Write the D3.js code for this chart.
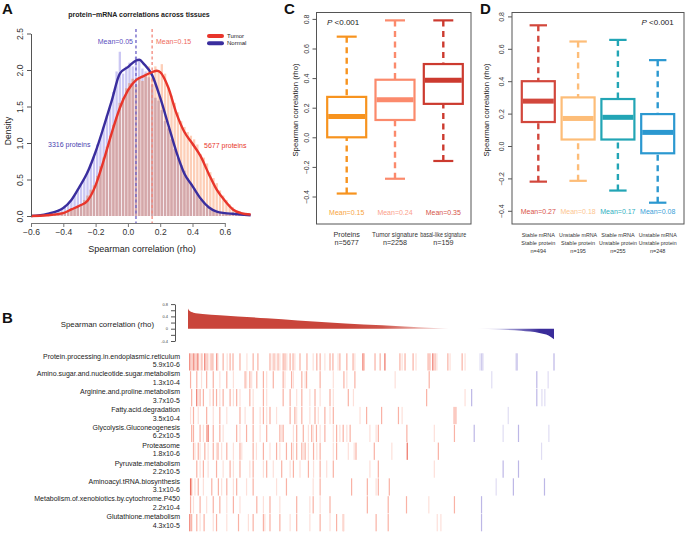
<!DOCTYPE html>
<html>
<head>
<meta charset="utf-8">
<script src="https://cdn.jsdelivr.net/npm/d3@7"></script>
<style>
body { margin: 0; background: #fff; }
svg { display: block; font-family: "Liberation Sans", Arial, sans-serif; }
</style>
</head>
<body>
<svg id="fig" width="685" height="533"></svg>
<script>
// ---- panel A: histogram bins (width 0.02, starting at -0.6) ----
var binStart = -0.6, binWidth = 0.02;
var normalBins = [0.0,0.0,0.01,0.01,0.02,0.03,0.04,0.06,0.08,0.10,0.14,0.18,0.22,0.28,0.36,0.42,0.50,0.62,0.72,0.82,
  0.98,1.08,1.22,1.38,1.52,1.70,1.98,2.25,1.95,2.05,2.10,2.05,2.18,2.15,2.02,1.98,1.90,1.80,1.62,1.58,
  1.45,1.30,1.20,1.05,0.92,0.80,0.70,0.62,0.52,0.44,0.38,0.30,0.22,0.18,0.12,0.09,0.07,0.05,0.04,0.03,
  0.03,0.02,0.02,0.01,0.01,0.01,0.0,0.0];
var tumorBins = [0.0,0.0,0.01,0.01,0.02,0.02,0.03,0.03,0.04,0.05,0.06,0.08,0.10,0.12,0.14,0.16,0.22,0.28,0.36,0.42,
  0.55,0.68,0.80,0.95,1.10,1.25,1.35,1.55,1.62,1.75,1.82,1.88,1.80,1.90,1.85,1.95,2.05,1.90,2.05,2.00,
  2.08,1.95,1.75,1.65,1.55,1.42,1.30,1.22,1.15,1.10,1.05,0.98,0.85,0.80,0.72,0.60,0.52,0.45,0.35,0.28,
  0.22,0.16,0.12,0.08,0.06,0.04,0.02,0.01];
// density curves
var normalX = [-0.6,-0.5,-0.4,-0.35,-0.3,-0.25,-0.2,-0.15,-0.1,-0.05,0,0.05,0.07,0.1,0.15,0.2,0.25,0.3,0.35,0.4,0.45,0.5,0.55,0.6,0.65,0.7,0.76];
var normalY = [0,0.03,0.11,0.22,0.40,0.60,0.88,1.22,1.58,1.95,2.04,2.13,2.14,2.08,1.93,1.62,1.25,0.88,0.58,0.41,0.24,0.12,0.06,0.04,0.03,0.02,0.01];
var tumorX = [-0.6,-0.5,-0.4,-0.35,-0.3,-0.25,-0.2,-0.15,-0.1,-0.05,0,0.05,0.1,0.15,0.18,0.2,0.25,0.3,0.35,0.4,0.45,0.5,0.55,0.6,0.65,0.7,0.76];
var tumorY = [0,0.01,0.04,0.09,0.14,0.21,0.42,0.76,1.14,1.48,1.72,1.86,1.92,1.97,1.99,1.97,1.76,1.41,1.15,0.99,0.82,0.58,0.36,0.21,0.09,0.04,0.02];
var meanNormal = 0.05, meanTumor = 0.15;
var xTicksA = [-0.6,-0.4,-0.2,0.0,0.2,0.4,0.6];
var yTicksA = [0,0.5,1,1.5,2,2.5];

// ---- panel C ----
var cGroups = ['Proteins', 'Tumor signature', 'basal-like signature'];
var cCounts = ['n=5677', 'n=2258', 'n=159'];
var cMeans = [0.15, 0.24, 0.35];
var cLow = [-0.38, -0.28, -0.16];
var cQ1 = [0.0, 0.117, 0.226];
var cMed = [0.14, 0.253, 0.386];
var cQ3 = [0.273, 0.389, 0.495];
var cHigh = [0.68, 0.79, 0.79];

// ---- panel D ----
var dGroups = [['Stable mRNA','Stable protein'], ['Unstable mRNA','Stable protein'],
  ['Stable mRNA','Unstable protein'], ['Unstable mRNA','Unstable protein']];
var dCounts = ['n=494', 'n=195', 'n=255', 'n=248'];
var dMeans = [0.27, 0.18, 0.17, 0.08];
var dLow = [-0.22, -0.215, -0.275, -0.35];
var dQ1 = [0.148, 0.04, 0.04, -0.045];
var dMed = [0.277, 0.17, 0.177, 0.084];
var dQ3 = [0.40, 0.30, 0.29, 0.197];
var dHigh = [0.745, 0.645, 0.655, 0.53];
var boxTicks = [-0.4,-0.2,0.0,0.2,0.4,0.6,0.8];

// ---- panel B: ranked correlation profile (rank %, rho) ----
var rankPct = [0, 0.4, 1.5, 4, 8.7, 21.5, 30, 43, 53, 63, 74, 79, 85, 91, 96, 98.5, 100];
var rankRho = [0.66, 0.58, 0.52, 0.48, 0.44, 0.34, 0.27, 0.17, 0.11, 0.05, 0.0, 0.0, -0.03, -0.07, -0.14, -0.22, -0.34];
var bTicks = [-0.4, 0, 0.4, 0.8];
var pathways = ['Protein.processing.in.endoplasmic.reticulum', 'Amino.sugar.and.nucleotide.sugar.metabolism',
  'Arginine.and.proline.metabolism', 'Fatty.acid.degradation', 'Glycolysis.Gluconeogenesis', 'Proteasome',
  'Pyruvate.metabolism', 'Aminoacyl.tRNA.biosynthesis', 'Metabolism.of.xenobiotics.by.cytochrome.P450',
  'Glutathione.metabolism'];
var pathwayP = ['5.9x10-6', '1.3x10-4', '3.7x10-5', '3.5x10-4', '6.2x10-5', '1.8x10-6', '2.2x10-5',
  '3.1x10-6', '2.2x10-4', '4.3x10-5'];
// gene hits per pathway: [rank %, shade 1-3]
var hits = [
  [[0.5,3],[1.1,2],[1.6,3],[2.2,2],[2.7,3],[3.3,1],[3.8,2],[4.6,3],[5.2,2],[5.7,1],[6.3,2],[6.8,2],[7.9,3],[8.2,1],[9.6,2],[10.7,1],[11.5,2],[12.3,2],[14.2,2],[16.1,1],[17.8,2],[19.1,2],[22.4,2],[23.0,1],[23.5,2],[24.0,1],[24.6,2],[25.1,1],[26.0,2],[26.5,2],[27.0,1],[27.9,2],[28.7,2],[29.2,1],[30.6,2],[32.5,2],[34.2,1],[35.2,2],[36.1,2],[37.4,1],[38.8,2],[39.6,2],[41.0,1],[41.5,2],[43.4,2],[45.1,2],[45.6,1],[47.8,3],[48.1,2],[51.1,2],[52.5,2],[53.8,3],[57.9,2],[58.5,1],[59.3,2],[61.5,2],[62.3,1],[65.6,2],[66.1,2],[66.9,3],[67.5,2],[68.0,1],[71.0,2],[71.6,1],[74.9,2],[75.7,1],[79.8,1],[80.3,2],[80.6,1],[89.6,1],[89.9,2],[100,2]],
  [[0.7,2],[2.4,2],[3.7,1],[5.1,2],[6.9,2],[8.7,1],[10.6,2],[12.4,1],[15.6,2],[16.0,1],[16.9,2],[17.4,1],[18.8,2],[20.6,2],[21.5,1],[23.3,2],[26.0,2],[26.5,1],[28.3,2],[28.8,1],[31.1,2],[32.0,1],[32.4,2],[36.1,2],[39.7,1],[42.6,2],[43.4,1],[45.6,2],[56.6,1],[65.9,2],[83.0,1],[95.3,2],[98.4,1]],
  [[1.0,2],[2.4,3],[2.8,1],[3.3,2],[4.2,2],[6.0,1],[6.9,2],[7.8,2],[8.7,1],[9.6,2],[11.5,2],[12.4,1],[13.3,2],[14.2,1],[16.9,2],[17.8,1],[20.6,2],[21.5,1],[26.0,2],[27.9,2],[29.7,1],[31.1,2],[33.3,1],[34.7,2],[36.1,1],[38.8,2],[39.7,1],[43.8,2],[45.2,1],[65.2,2],[75.7,1],[77.5,2],[95.3,2],[96.7,1],[97.5,1]],
  [[0.7,1],[1.5,2],[2.8,1],[5.1,2],[6.9,1],[8.7,2],[10.6,1],[14.2,2],[15.6,1],[17.8,2],[19.7,1],[20.6,2],[21.5,1],[22.4,2],[24.2,1],[27.9,2],[29.2,2],[29.7,1],[31.1,2],[33.3,1],[34.7,2],[35.6,1],[37.4,2],[38.8,1],[39.7,2],[47.0,1],[48.8,2],[52.9,2],[57.5,2],[58.5,1],[72.7,2],[73.2,2],[87.5,1]],
  [[1.0,2],[1.5,2],[3.3,2],[4.2,1],[5.1,2],[5.5,3],[6.9,2],[8.7,2],[9.6,1],[13.3,2],[14.2,1],[16.0,2],[17.8,2],[19.7,1],[21.5,2],[25.1,2],[25.6,1],[26.0,2],[28.8,1],[29.7,2],[31.5,2],[32.9,1],[33.8,2],[34.2,1],[35.1,2],[36.1,1],[37.4,2],[39.7,1],[40.6,2],[41.5,1],[42.4,2],[43.4,1],[44.3,2],[49.7,1],[51.4,1],[52.0,2],[59.8,2],[67.3,1],[72.8,2],[78.2,2],[86.1,1],[90.3,2],[98.6,1]],
  [[1.5,2],[1.9,1],[2.8,2],[3.3,1],[4.6,2],[5.5,1],[6.9,2],[7.8,1],[8.2,2],[9.2,1],[10.6,2],[12.4,1],[14.2,2],[14.7,1],[17.8,2],[18.7,1],[20.6,2],[22.4,1],[24.2,2],[25.1,1],[26.9,2],[28.3,2],[28.8,1],[29.7,2],[31.1,2],[31.5,1],[32.0,2],[32.9,1],[34.3,2],[35.2,1],[36.1,2],[39.7,1],[40.6,2],[43.8,1],[45.4,1],[45.9,2],[50.9,2],[55.7,1],[59.9,3],[68.4,2],[96.6,1]],
  [[2.4,2],[3.3,1],[4.2,2],[5.5,1],[7.8,2],[9.6,1],[11.5,2],[12.4,1],[14.2,2],[16.9,1],[17.8,2],[20.6,1],[21.5,2],[23.3,1],[25.6,2],[27.9,1],[28.8,2],[30.6,1],[32.9,2],[34.3,1],[36.1,2],[37.9,1],[39.7,2],[49.7,1],[52.0,2],[67.3,1],[86.1,2],[90.3,2]],
  [[0.7,3],[1.0,2],[1.9,1],[2.8,2],[4.2,1],[6.5,2],[8.3,2],[9.2,1],[10.6,2],[12.4,1],[13.3,2],[16.0,1],[17.8,2],[24.2,1],[26.9,2],[34.2,1],[36.1,2],[44.7,2],[49.0,2],[51.4,1],[52.0,2],[55.0,2],[84.2,1],[88.9,2],[97.4,2]],
  [[0.7,2],[1.5,1],[3.3,2],[5.1,1],[6.9,2],[8.7,2],[10.6,1],[12.4,2],[14.2,1],[18.8,2],[20.6,1],[22.4,2],[25.1,1],[29.7,2],[33.3,1],[34.2,2],[36.1,1],[38.8,2],[49.0,2],[54.7,2],[59.7,2],[65.8,1],[72.8,2],[80.2,2]],
  [[0.5,3],[1.0,2],[2.4,2],[3.3,1],[4.4,2],[6.9,1],[7.8,2],[10.6,1],[13.8,2],[16.5,1],[17.8,2],[20.6,2],[21.0,1],[22.4,2],[25.1,2],[27.9,1],[29.7,2],[33.3,1],[36.1,2],[38.8,1],[40.6,2],[42.4,2],[42.6,1],[51.4,2],[54.7,2],[68.1,1],[69.1,1],[80.2,2]]
];
var negStart = 76.5;   // rank % where correlations turn negative

var svg = d3.select('#fig');
var fmt1 = d3.format('.1f');

function panelLetter(txt, x, y) {
    svg.append('text').attr('x', x).attr('y', y)
        .attr('font-size', 15).attr('font-weight', 'bold').attr('fill', '#111').text(txt);
}

// squeeze a label into maxW (condensed look like the original's narrow font)
function fitText(sel, maxW) {
    sel.each(function() {
        var w = this.getComputedTextLength();
        if (w > maxW)
            d3.select(this).attr('textLength', maxW).attr('lengthAdjust', 'spacingAndGlyphs');
    });
}

// rotated (R style) labels for a left axis
function leftAxis(g, scale, ticks, x, fontSize, fmt) {
    var ax = g.append('g').attr('transform', 'translate(' + x + ',0)')
        .call(d3.axisLeft(scale).tickValues(ticks).tickFormat(fmt).tickSize(4).tickSizeOuter(0));
    ax.select('.domain').attr('stroke', '#555');
    ax.selectAll('.tick line').attr('stroke', '#555');
    ax.selectAll('.tick text')
        .attr('x', 0).attr('y', -8).attr('dy', 0)
        .attr('text-anchor', 'middle').attr('transform', 'rotate(-90)')
        .attr('font-size', fontSize).attr('fill', '#333')
        .attr('font-family', '"Liberation Sans", Arial, sans-serif');
    return ax;
}

function drawA() {
    var g = svg.append('g');
    var x = d3.scaleLinear().domain([-0.6, 0.6]).range([31, 224.8]);
    var y = d3.scaleLinear().domain([0, 2.5]).range([216, 33.5]);
    var bw = x(binWidth) - x(0);

    var bins = normalBins.map(function(n, i) {
        return {x0: binStart + i * binWidth, n: n, t: tumorBins[i]};
    });
    function bar(sel, key, color) {
        g.selectAll('rect.' + sel).data(bins).enter().append('rect')
            .attr('class', sel)
            .attr('x', function(d) { return x(d.x0) + 0.45; })
            .attr('width', bw - 0.9)
            .attr('y', function(d) { return y(key(d)); })
            .attr('height', function(d) { return y(0) - y(key(d)); })
            .attr('fill', color);
    }
    bar('nb', function(d) { return d.n; }, '#cbc7f3');
    bar('tb', function(d) { return d.t; }, '#fdcfb8');
    bar('ob', function(d) { return Math.min(d.n, d.t); }, '#d3a7aa');

    // mean lines
    [[meanNormal, '#6a5fc6'], [meanTumor, '#f2867a']].forEach(function(m) {
        g.append('line').attr('x1', x(m[0])).attr('x2', x(m[0]))
            .attr('y1', 29).attr('y2', 224)
            .attr('stroke', m[1]).attr('stroke-width', 1.3).attr('stroke-dasharray', '3,2.5');
    });

    var line = d3.line().curve(d3.curveMonotoneX);
    g.append('path')
        .attr('d', line(normalX.map(function(v, i) { return [x(v), y(normalY[i])]; })))
        .attr('fill', 'none').attr('stroke', '#3a2e9e').attr('stroke-width', 2.4);
    g.append('path')
        .attr('d', line(tumorX.map(function(v, i) { return [x(v), y(tumorY[i])]; })))
        .attr('fill', 'none').attr('stroke', '#e8352b').attr('stroke-width', 2.4);

    // axes
    var xa = g.append('g').attr('transform', 'translate(0,223)')
        .call(d3.axisBottom(x).tickValues(xTicksA).tickFormat(fmt1).tickSize(4).tickSizeOuter(0));
    xa.select('.domain').attr('stroke', '#777');
    xa.selectAll('.tick line').attr('stroke', '#777');
    xa.selectAll('.tick text').attr('font-size', 8.5).attr('fill', '#333')
        .attr('font-family', '"Liberation Sans", Arial, sans-serif').attr('y', 6);
    leftAxis(g, y, yTicksA, 31, 8.5, fmt1);

    g.append('text').attr('x', 142).attr('y', 252).attr('text-anchor', 'middle')
        .attr('font-size', 9).attr('fill', '#222').text('Spearman correlation (rho)');
    g.append('text').attr('transform', 'translate(11,131) rotate(-90)').attr('text-anchor', 'middle')
        .attr('font-size', 8.5).attr('fill', '#222').text('Density');
    g.append('text').attr('x', 139).attr('y', 16.5).attr('text-anchor', 'middle')
        .attr('font-size', 7).attr('font-weight', 'bold').attr('fill', '#222')
        .text('protein\u2212mRNA correlations across tissues');

    g.append('text').attr('x', 133).attr('y', 43.5).attr('text-anchor', 'end')
        .attr('font-size', 7).attr('fill', '#5a4fc0').text('Mean=0.05');
    g.append('text').attr('x', 156).attr('y', 43.5)
        .attr('font-size', 7).attr('fill', '#ee6a5c').text('Mean=0.15');
    g.append('text').attr('x', 48).attr('y', 146.5)
        .attr('font-size', 7).attr('fill', '#4a3fb0').text('3316 proteins');
    g.append('text').attr('x', 204).attr('y', 147.5)
        .attr('font-size', 7).attr('fill', '#e8352b').text('5677 proteins');

    // legend
    [['Tumor', '#e8352b', 36], ['Normal', '#3a2e9e', 43.3]].forEach(function(l) {
        g.append('line').attr('x1', 209).attr('x2', 222).attr('y1', l[2]).attr('y2', l[2])
            .attr('stroke', l[1]).attr('stroke-width', 4).attr('stroke-linecap', 'round');
        g.append('text').attr('x', 227).attr('y', l[2] + 2).attr('font-size', 6)
            .attr('fill', '#222').text(l[0]);
    });
}

function drawBoxes(opts) {
    var g = svg.append('g');
    var y = d3.scaleLinear().domain(opts.yDomain).range(opts.yRange);
    var x = d3.scalePoint().domain(d3.range(opts.low.length)).range(opts.xRange);
    g.append('rect').attr('x', opts.frame[0]).attr('y', opts.frame[1])
        .attr('width', opts.frame[2] - opts.frame[0]).attr('height', opts.frame[3] - opts.frame[1])
        .attr('fill', 'none').attr('stroke', '#555').attr('stroke-width', 1);
    leftAxis(g, y, boxTicks, opts.frame[0], 7, function(d) { return fmt1(d); });
    g.select('.domain').remove();

    opts.low.forEach(function(lo, i) {
        var cx = x(i), c = opts.colors[i], hw = opts.halfBox, hc = opts.halfCap;
        // whiskers
        [[lo, opts.q1[i]], [opts.high[i], opts.q3[i]]].forEach(function(w) {
            g.append('line').attr('x1', cx).attr('x2', cx)
                .attr('y1', y(w[0])).attr('y2', y(w[1]))
                .attr('stroke', c).attr('stroke-width', 2.4).attr('stroke-dasharray', '6,4.5');
            g.append('line').attr('x1', cx - hc).attr('x2', cx + hc)
                .attr('y1', y(w[0])).attr('y2', y(w[0]))
                .attr('stroke', c).attr('stroke-width', 2.2);
        });
        g.append('rect').attr('x', cx - hw).attr('width', hw * 2)
            .attr('y', y(opts.q3[i])).attr('height', y(opts.q1[i]) - y(opts.q3[i]))
            .attr('fill', '#fff').attr('stroke', c).attr('stroke-width', 2.2);
        g.append('line').attr('x1', cx - hw + 1).attr('x2', cx + hw - 1)
            .attr('y1', y(opts.med[i])).attr('y2', y(opts.med[i]))
            .attr('stroke', c).attr('stroke-width', 5);
        g.append('text').attr('x', cx).attr('y', opts.meanY).attr('text-anchor', 'middle')
            .attr('font-size', opts.meanSize).attr('fill', opts.meanColors[i])
            .text('Mean=' + d3.format('.2f')(opts.means[i]))
            .call(fitText, opts.meanMax);
        opts.labels[i].forEach(function(t, k) {
            g.append('text').attr('x', cx).attr('y', opts.labelY + k * opts.labelStep)
                .attr('text-anchor', 'middle').attr('font-size', opts.labelSize)
                .attr('fill', '#333').text(t)
                .call(fitText, opts.labelMax);
        });
    });

    var p = g.append('text').attr('x', opts.pX).attr('y', 25).attr('font-size', 8).attr('fill', '#222');
    p.append('tspan').attr('font-style', 'italic').text('P');
    p.append('tspan').text(' <0.001');
    g.append('text').attr('transform', 'translate(' + opts.titleX + ',110) rotate(-90)')
        .attr('text-anchor', 'middle').attr('font-size', 7.8).attr('fill', '#222')
        .text('Spearman correlation (rho)');
}

function drawB() {
    var g = svg.append('g');
    var x = d3.scaleLinear().domain([0, 100]).range([188, 554]);
    var y = d3.scaleLinear().domain([-0.4, 0.8]).range([341, 304.1]);
    var shade = d3.scaleLinear().domain([-0.1, -0.01, 0.01, 0.12])
        .range(['#3a2c9a', '#ecebfa', '#fbe6e2', '#c9453b']).clamp(true);

    var grad = svg.append('defs').append('linearGradient').attr('id', 'rhoGrad')
        .attr('gradientUnits', 'userSpaceOnUse').attr('x1', x(0)).attr('x2', x(100))
        .attr('y1', 0).attr('y2', 0);
    rankPct.forEach(function(p, i) {
        grad.append('stop').attr('offset', p / 100).attr('stop-color', shade(rankRho[i]));
    });
    var area = d3.area().curve(d3.curveMonotoneX)
        .x(function(d) { return x(d[0]); })
        .y0(y(0)).y1(function(d) { return y(d[1]); });
    g.append('path').attr('d', area(rankPct.map(function(p, i) { return [p, rankRho[i]]; })))
        .attr('fill', 'url(#rhoGrad)');

    var ax = g.append('g').attr('transform', 'translate(175,0)')
        .call(d3.axisLeft(y).tickValues([-0.4,-0.2,0,0.2,0.4,0.6,0.8]).tickSize(4).tickSizeOuter(0)
            .tickFormat(function(d) { return bTicks.indexOf(d) >= 0 ? d3.format('')(d).replace('\u2212', '-') : ''; }));
    ax.select('.domain').attr('stroke', '#555');
    ax.selectAll('.tick line').attr('stroke', '#555');
    ax.selectAll('.tick text').attr('font-size', 4).attr('fill', '#444').attr('x', -7)
        .attr('font-family', '"Liberation Sans", Arial, sans-serif');

    g.append('text').attr('x', 154).attr('y', 326.5).attr('text-anchor', 'end')
        .attr('font-size', 7.8).attr('fill', '#222').text('Spearman correlation (rho)');

    var rowTop = 353.3, rowH = 17.86;
    var redShades = ['#fde0da', '#f9b2a5', '#ee7264'];
    var blueShades = ['#e0ddf3', '#bdb7e6', '#9890d5'];
    hits.forEach(function(row, r) {
        g.selectAll('rect.r' + r).data(row).enter().append('rect')
            .attr('class', 'r' + r)
            .attr('x', function(d) { return Math.min(x(d[0]) - 0.6, 553.5); })
            .attr('width', 1.2)
            .attr('y', rowTop + r * rowH)
            .attr('height', rowH - 0.6)
            .attr('fill', function(d) {
                return d[0] >= negStart ? blueShades[d[1] - 1] : redShades[d[1] - 1];
            });
        g.append('text').attr('x', 180).attr('y', 358.5 + r * rowH).attr('text-anchor', 'end')
            .attr('font-size', 7).attr('fill', '#222').text(pathways[r]);
        g.append('text').attr('x', 180).attr('y', 367 + r * rowH).attr('text-anchor', 'end')
            .attr('font-size', 7).attr('fill', '#222').text(pathwayP[r]);
    });
}

drawA();
drawBoxes({
    yDomain: [0, 0.8], yRange: [137.3, 18.9],
    xRange: [346.7, 443.3], frame: [316.5, 12.5, 471, 224],
    low: cLow, q1: cQ1, med: cMed, q3: cQ3, high: cHigh, means: cMeans,
    colors: ['#f7931e', '#fb8a6c', '#cc3a2f'],
    meanColors: ['#f7a541', '#fba08a', '#d6554b'],
    halfBox: 19.5, halfCap: 10, meanY: 215, meanSize: 7, meanMax: 36,
    labels: cGroups.map(function(gn, i) { return [gn, cCounts[i]]; }),
    labelY: 236.5, labelStep: 8.7, labelSize: 7.2, labelMax: 46,
    pX: 327, titleX: 298
});
drawBoxes({
    yDomain: [0, 0.8], yRange: [146, 16.4],
    xRange: [538.3, 657.7], frame: [512, 12.5, 684, 224],
    low: dLow, q1: dQ1, med: dMed, q3: dQ3, high: dHigh, means: dMeans,
    colors: ['#d2473c', '#fdbd78', '#22a5b5', '#2b98d0'],
    meanColors: ['#d9534a', '#fdc58e', '#2fb0bf', '#3aa0d8'],
    halfBox: 16.5, halfCap: 8.7, meanY: 214, meanSize: 7, meanMax: 37,
    labels: dGroups.map(function(gn, i) { return [gn[0], gn[1], dCounts[i]]; }),
    labelY: 237, labelStep: 8, labelSize: 5.5, labelMax: 38,
    pX: 641.5, titleX: 489
});
drawB();

panelLetter('A', 2, 13.5);
panelLetter('C', 284, 14);
panelLetter('D', 480, 14);
panelLetter('B', 2, 322.7);
</script>
</body>
</html>
